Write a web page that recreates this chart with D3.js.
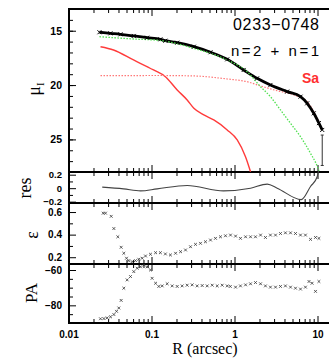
<!DOCTYPE html>
<html>
<head>
<meta charset="utf-8">
<script src="https://cdn.jsdelivr.net/npm/d3@7"></script>
<style>
body{margin:0;background:#fff}
svg{display:block}
.tk text{font-family:"Liberation Sans",Arial,sans-serif;font-weight:bold;font-size:10px;fill:#000}
.tk line{stroke:#000;stroke-width:1}
.tk path{display:none}
.ttl{font-family:"Liberation Serif","DejaVu Serif",serif;fill:#000}
</style>
</head>
<body>
<script>
// surface brightness profile (black points)
const profR = [0.0236,0.032,0.0423,0.0611,0.0886,0.128,0.147,0.204,0.324,0.514,0.817,1.29,1.87,2.71,4.31,6.24,7.51,9.02,10.4,11.4];
const profMu = [15.14,15.24,15.33,15.48,15.64,15.79,15.92,16.1,16.47,16.98,17.63,18.61,19.38,19.99,20.6,21.07,21.68,22.6,23.5,24.13];
const errR = [11.4], errLo = [24.6], errHi = [27.4];

// n=2 bulge (green dotted)
const bulgeR = [0.0236,0.0611,0.128,0.322,0.817,1.42,2.06,2.71,3.58,4.73,6.24,8.24,9.97,10.5];
const bulgeMu = [15.55,15.76,15.9,16.62,17.69,18.77,20.15,21.07,22.29,23.52,24.75,26.28,27.51,28.0];

// n=1 disk (red dotted)
const diskR = [0.0243,0.128,0.324,0.817,1.42,2.06,3.27,5.2,7.51,9.02,11.4];
const diskMu = [19.14,19.12,19.16,19.44,19.69,20.08,20.52,20.91,21.53,22.45,24.13];

// Sa template (red solid)
const saR = [0.0243,0.0349,0.0607,0.1057,0.147,0.204,0.269,0.324,0.427,0.563,0.817,1.078,1.357,1.56];
const saMu = [16.47,16.77,17.69,18.61,19.23,20.45,21.37,22.14,22.75,23.21,24.13,25.05,26.59,27.97];

// residuals
const resR = [0.0255,0.046,0.0737,0.117,0.269,0.736,1.56,2.48,3.27,6.37,8.24,9.91,10.3];
const resVal = [0.015,-0.01,-0.04,-0.01,0.04,-0.04,0.0,0.06,0.0,-0.17,0.025,0.17,0.26];

// ellipticity
const ellR = [0.0262,0.0279,0.0327,0.0352,0.0393,0.0431,0.0464,0.05,0.0533,0.0585,0.0641,0.0703,0.0772,0.0847,0.0972,0.112,0.128,0.147,0.169,0.195,0.224,0.257,0.295,0.339,0.389,0.447,0.514,0.59,0.678,0.779,0.895,1.03,1.18,1.36,1.56,1.79,2.06,2.36,2.71,3.12,3.58,4.11,4.73,5.43,6.24,7.16,8.24,9.46,10.4];
const ellVal = [0.59,0.59,0.562,0.454,0.381,0.288,0.235,0.191,0.17,0.161,0.17,0.182,0.191,0.211,0.226,0.24,0.24,0.229,0.22,0.235,0.249,0.264,0.293,0.314,0.323,0.337,0.352,0.367,0.381,0.39,0.396,0.387,0.367,0.381,0.381,0.381,0.396,0.375,0.396,0.396,0.41,0.416,0.416,0.41,0.396,0.396,0.358,0.375,0.367];

// position angle
const paR = [0.0243,0.0267,0.0292,0.0321,0.0352,0.0379,0.0404,0.0431,0.0464,0.0509,0.0558,0.0612,0.0672,0.0737,0.0808,0.0887,0.0972,0.1017,0.112,0.1225,0.1345,0.1545,0.1775,0.204,0.234,0.269,0.309,0.355,0.408,0.469,0.539,0.619,0.711,0.817,0.89,1.03,1.18,1.36,1.56,1.79,2.06,2.36,2.71,3.12,3.58,4.11,4.73,5.43,6.24,7.16,7.9,8.6,9.46,10.4];
const paVal = [-87.6,-87.5,-87.1,-86.5,-85.2,-83.4,-81.5,-77.2,-70.3,-65.6,-63.7,-60.9,-59.0,-58.2,-57.2,-58.2,-60,-64.7,-67.5,-69.3,-69.0,-67.8,-69.0,-69.3,-69.0,-68.6,-68.4,-69.0,-68.8,-69.0,-68.6,-69.0,-68.6,-69.0,-69.3,-69.7,-69.0,-68.4,-67.8,-67.1,-67.8,-69.0,-69.7,-69.7,-69.3,-69.0,-69.7,-70.3,-70.8,-69.7,-66.5,-67.5,-72.1,-66.5];

// ticks
const xMajor = [0.01,0.1,1,10];
const xLabels = ["0.01","0.1","1","10"];
const muMajor = [15,20,25];
const resMajor = [-0.2,0,0.2];
const ellMajor = [0.2,0.4,0.6];
const paMajor = [-80,-60];

const W = 329, H = 358;
const left = 69;
const svg = d3.select("body").append("svg").attr("width", W).attr("height", H);

const x = d3.scaleLog().domain([0.01, 15]).range([68.5, 68.5 + 83 * Math.log10(1500)]);
const xMinor = [];
for (let d of [0.01,0.1,1,10]) for (let k = 2; k <= 9; k++) if (d*k < 15) xMinor.push(d*k);

const yMu = d3.scaleLinear().domain([13,28]).range([9,172]);
const yRes = d3.scaleLinear().domain([-0.22,0.24]).range([203,172]);
const yEll = d3.scaleLinear().domain([0.14,0.68]).range([264,203]);
const yPA = d3.scaleLinear().domain([-90,-56.6]).range([323,264]);

const panels = [
    {y: yMu, top: 9, bottom: 172, major: muMajor, minor: d3.range(14,28,1), fmt: d3.format("d"), fs: 10.5},
    {y: yRes, top: 172, bottom: 203, major: resMajor, minor: [-0.1,0.1], fmt: d=> d==0 ? "0" : d3.format(".1f")(d).replace("-","\u2212"), fs: 9.5},
    {y: yEll, top: 203, bottom: 264, major: ellMajor, minor: [0.3,0.5], fmt: d3.format(".1f"), fs: 10},
    {y: yPA, top: 264, bottom: 323, major: paMajor, minor: [-85,-75,-70,-65], fmt: d=> String(d).replace("-","\u2212"), fs: 10}
];

panels.forEach(function(p, i){
    // left axis, ticks inward
    let ax = svg.append("g").attr("class","tk").attr("transform","translate("+left+",0)")
        .call(d3.axisLeft(p.y).tickValues(p.major).tickSize(-7).tickPadding(7).tickFormat(p.fmt));
    ax.selectAll("text").style("font-size", p.fs+"px");
    svg.append("g").attr("class","tk").attr("transform","translate("+left+",0)")
        .call(d3.axisLeft(p.y).tickValues(p.minor).tickSize(-4).tickFormat(""));
    // top and bottom x ticks
    svg.append("g").attr("class","tk").attr("transform","translate(0,"+p.top+")")
        .call(d3.axisTop(x).tickValues(xMajor).tickSize(-7).tickFormat(""));
    svg.append("g").attr("class","tk").attr("transform","translate(0,"+p.top+")")
        .call(d3.axisTop(x).tickValues(xMinor).tickSize(-4).tickFormat(""));
    let bot = svg.append("g").attr("class","tk").attr("transform","translate(0,"+p.bottom+")");
    if (i == panels.length-1) {
        bot.call(d3.axisBottom(x).tickValues(xMajor).tickSize(-7).tickPadding(8).tickFormat((d,j)=>xLabels[j]));
    } else {
        bot.call(d3.axisBottom(x).tickValues(xMajor).tickSize(-7).tickFormat(""));
    }
    svg.append("g").attr("class","tk").attr("transform","translate(0,"+p.bottom+")")
        .call(d3.axisBottom(x).tickValues(xMinor).tickSize(-4).tickFormat(""));
    // clip
    svg.append("clipPath").attr("id","clip"+i).append("rect")
        .attr("x", left).attr("y", p.top).attr("width", W-left).attr("height", p.bottom-p.top);
});

// frame
const frame = svg.append("g").attr("stroke","#000").attr("stroke-width",2);
frame.append("line").attr("x1",left).attr("x2",left).attr("y1",8).attr("y2",324);
[9,172,203,264,323].forEach(function(yy){
    frame.append("line").attr("x1",left-1).attr("x2",W).attr("y1",yy).attr("y2",yy);
});

// main panel curves
const main = svg.append("g").attr("clip-path","url(#clip0)");
function muLine(rs, ms){
    return d3.line().x((d,i)=>x(rs[i])).y((d,i)=>yMu(ms[i])).curve(d3.curveMonotoneX)(rs);
}
main.append("path").attr("d", muLine(saR, saMu)).attr("fill","none")
    .attr("stroke","#ff3b3b").attr("stroke-width",1.4);
main.append("path").attr("d", muLine(diskR, diskMu)).attr("fill","none")
    .attr("stroke","#ff7878").attr("stroke-width",1.2).attr("stroke-dasharray","1.5,1.5");
main.append("path").attr("d", muLine(profR, profMu)).attr("fill","none")
    .attr("stroke","#000").attr("stroke-width",2.8);
main.append("path").attr("d", muLine(bulgeR, bulgeMu)).attr("fill","none")
    .attr("stroke","#4fe04f").attr("stroke-width",1.3).attr("stroke-dasharray","1.5,1.5");

function crossPath(px, py, s){
    return "M"+(px-s)+","+(py-s)+"L"+(px+s)+","+(py+s)+"M"+(px-s)+","+(py+s)+"L"+(px+s)+","+(py-s);
}
main.selectAll("path.pt").data(profR).enter().append("path").attr("class","pt")
    .attr("d",(d,i)=>crossPath(x(d), yMu(profMu[i]), 2))
    .attr("stroke","#000").attr("stroke-width",1);

// error bar
errR.forEach(function(r, i){
    let g = svg.append("g").attr("stroke","#333").attr("stroke-width",1);
    g.append("line").attr("x1",x(r)).attr("x2",x(r)).attr("y1",yMu(errLo[i])).attr("y2",yMu(errHi[i]));
    g.append("line").attr("x1",x(r)-1.5).attr("x2",x(r)+1.5).attr("y1",yMu(errLo[i])).attr("y2",yMu(errLo[i]));
    g.append("line").attr("x1",x(r)-1.5).attr("x2",x(r)+1.5).attr("y1",yMu(errHi[i])).attr("y2",yMu(errHi[i]));
});

// residuals
svg.append("path")
    .attr("d", d3.line().x((d,i)=>x(resR[i])).y((d,i)=>yRes(resVal[i])).curve(d3.curveMonotoneX)(resR))
    .attr("fill","none").attr("stroke","#444").attr("stroke-width",1.1);

// ellipticity and PA markers
svg.selectAll("path.ell").data(ellR).enter().append("path").attr("class","ell")
    .attr("d",(d,i)=>crossPath(x(d), yEll(ellVal[i]), 1.4))
    .attr("stroke","#333").attr("stroke-width",0.8);
svg.selectAll("path.pa").data(paR).enter().append("path").attr("class","pa")
    .attr("d",(d,i)=>crossPath(x(d), yPA(paVal[i]), 1.4))
    .attr("stroke","#333").attr("stroke-width",0.8);

// annotations
svg.append("text").attr("x",319).attr("y",30).attr("text-anchor","end")
    .attr("font-family","Liberation Sans, Arial, sans-serif").attr("font-size",16)
    .attr("textLength",86).attr("lengthAdjust","spacing").text("0233\u22120748");
svg.append("text").attr("x",319).attr("y",56).attr("text-anchor","end")
    .attr("font-family","Liberation Sans, Arial, sans-serif").attr("font-size",15)
    .attr("textLength",88).attr("lengthAdjust","spacing").text("n=2 + n=1");
svg.append("text").attr("x",319).attr("y",83).attr("text-anchor","end")
    .attr("font-family","Liberation Sans, Arial, sans-serif").attr("font-size",14).attr("font-weight","bold")
    .attr("fill","#ff3030").text("Sa");

// axis titles
function vTitle(tx, ty, size){
    return svg.append("text").attr("class","ttl").attr("font-size",size)
        .attr("text-anchor","middle").attr("transform","translate("+tx+","+ty+") rotate(-90)");
}
let mu = vTitle(40, 89, 18);
mu.append("tspan").text("\u03bc");
mu.append("tspan").attr("font-size",11).attr("dy",4).text("I");
vTitle(31, 188, 18).text("res");
vTitle(38, 235, 18).text("\u03b5");
vTitle(37, 293, 17).text("PA");
svg.append("text").attr("class","ttl").attr("font-size",16).attr("text-anchor","middle")
    .attr("x",205).attr("y",354).text("R (arcsec)");
</script>
</body>
</html>
